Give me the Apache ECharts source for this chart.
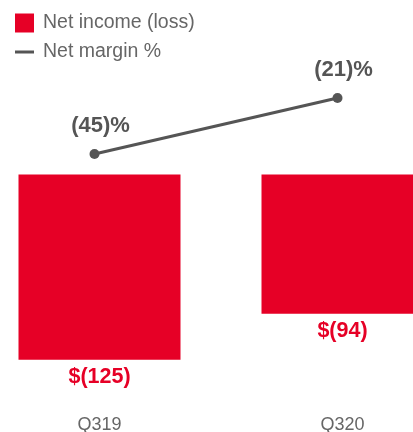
<!DOCTYPE html>
<html><head><meta charset="utf-8">
<script src="https://cdn.jsdelivr.net/npm/echarts@6/dist/echarts.min.js"></script>
<style>html,body{margin:0;padding:0;background:#fff}#c{width:413px;height:432px}</style>
</head><body><div id="c"></div>
<script>
const categories = ['Q319', 'Q320'];
const netIncome = [-125, -94];
const netMargin = [-45, -21];
const seriesNames = ['Net income (loss)', 'Net margin %'];

const RED = '#E60026', GRAY = '#555555';
const chart = echarts.init(document.getElementById('c'));
chart.setOption({
  animation: false,
  textStyle: { fontFamily: 'Liberation Sans, Arial, sans-serif' },
  legend: {
    orient: 'vertical', left: 15, top: 12, padding: 0, itemWidth: 19, itemHeight: 19, itemGap: 7,
    textStyle: { color: '#666', fontSize: 19.5, lineHeight: 19, padding: [0, 0, 3, 4] },
    data: [
      { name: seriesNames[0], icon: 'rect' },
      { name: seriesNames[1], icon: 'path://M0,0M0,8h19v3h-19zM19,19' }
    ]
  },
  grid: [
    { left: -22, width: 486, top: 56, height: 326, outerBoundsMode: 'none', containLabel: false },
    { left: -27, width: 486, top: 56, height: 326, outerBoundsMode: 'none', containLabel: false }
  ],
  xAxis: [
    { type: 'category', data: categories, gridIndex: 0, axisLine: { show: false }, axisTick: { show: false },
      axisLabel: { color: '#666', fontSize: 18, margin: 34 } },
    { type: 'category', data: categories, gridIndex: 1, show: false }
  ],
  yAxis: [
    { type: 'value', gridIndex: 0, min: -140, max: 80, show: false },
    { type: 'value', gridIndex: 1, min: -142.7, max: -3, show: false }
  ],
  series: [
    { name: seriesNames[0], type: 'bar', data: netIncome, barWidth: 162, itemStyle: { color: RED },
      label: { show: true, position: 'bottom', distance: 6, color: RED, fontSize: 21.5, fontWeight: 'bold',
        formatter: p => '$(' + Math.abs(p.value) + ')' } },
    { name: seriesNames[1], type: 'line', data: netMargin, xAxisIndex: 1, yAxisIndex: 1,
      color: GRAY, lineStyle: { color: GRAY, width: 3 }, symbol: 'circle', symbolSize: 10,
      itemStyle: { color: GRAY },
      label: { show: true, position: 'top', distance: 12, offset: [6, 0], color: GRAY, fontSize: 22, fontWeight: 'bold',
        formatter: p => '(' + Math.abs(p.value) + ')%' } }
  ]
});
</script></body></html>
